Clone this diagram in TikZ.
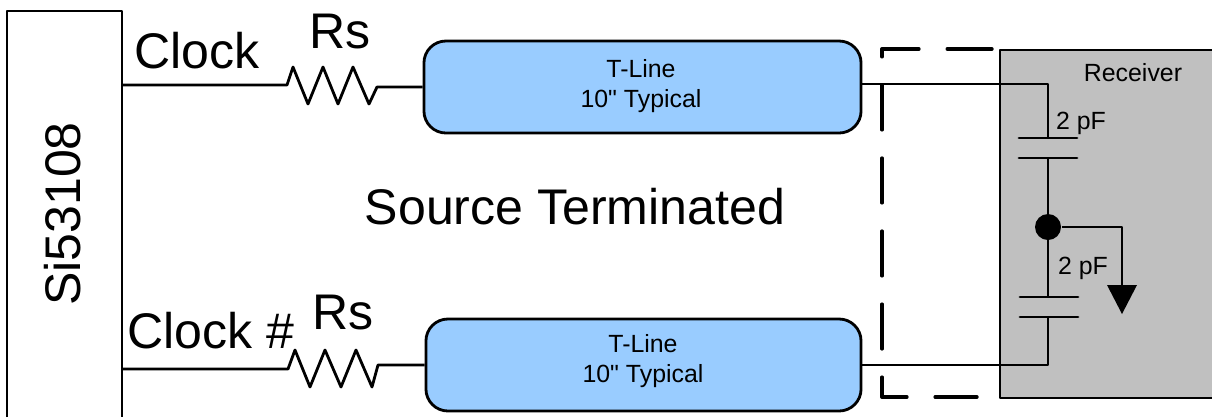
\documentclass[tikz,border=0pt]{standalone}
\usepackage{fontspec}
\setmainfont{Liberation Sans}
\newfontfamily\straightfont{Liberation Sans}
\usepackage{tikz}

\begin{document}
\begin{tikzpicture}[x = 0.025cm, y = -0.025cm, line width = 2pt, line join = round,
        biglabel/.style = {inner sep = 0pt, font = \fontsize{35.6}{42}\selectfont},
        smalllabel/.style = {inner sep = 0pt, align = center, font = \straightfont\fontsize{17.7}{21}\selectfont},
        tline/.style = {draw, fill = lineblue, rounded corners = 0.55cm, minimum height = 2.3cm, inner sep = 0pt},
        plate/.style = {line cap = round}]
        \definecolor{lineblue}{HTML}{99CCFF}
        \definecolor{rxgray}{HTML}{C0C0C0}
        \useasboundingbox (0,0) rectangle (1212,417);

        \draw [fill = rxgray] (1212,50) -- (1000,50) -- (1000,398) -- (1212,398);
        \draw (7,417) -- (7,11) -- (122,11) -- (122,417);

        \node [biglabel, rotate = 90] (chip) at (63,214) {Si53108};
        \node [biglabel] (clock) at (197,51) {Clock};
        \node [biglabel] (clockn) at (211,331) {Clock \#};
        \node [biglabel] (rstop) at (340,32) {Rs};
        \node [biglabel] (rsbot) at (343,313) {Rs};
        \node [biglabel] (title) at (575,207) {Source Terminated};

        \node [tline, minimum width = 10.925cm] (tlinetop) at (642.5,87) {};
        \node [tline, minimum width = 10.875cm] (tlinebot) at (643.5,365) {};
        \node [smalllabel] (texttop) at (641,86) {T-Line\\10" Typical};
        \node [smalllabel] (textbot) at (643,361) {T-Line\\10" Typical};

        \node [smalllabel] (rxlabel) at (1133,73) {Receiver};
        \node [smalllabel] (captop) at (1081,123) {2 pF};
        \node [smalllabel] (capbot) at (1083,268) {2 pF};

        \coordinate (clkout) at (122,85);
        \coordinate (clknout) at (122,369);
        \coordinate (rstopa) at (287,85);
        \coordinate (rstopb) at (377,87);
        \coordinate (rsbota) at (288,369);
        \coordinate (rsbotb) at (378,365);
        \coordinate (tapa) at (1048,84);
        \coordinate (tapb) at (1048,365);
        \coordinate (gnd) at (1122,285);

        \draw (clkout) -- (rstopa) -- (293,67) -- (308,104) -- (323,67) -- (338,104) -- (353,67) -- (369,104) -- (rstopb) -- (tlinetop.west);
        \draw (clknout) -- (rsbota) -- (295,350) -- (310,387) -- (325,350) -- (341,387) -- (356,350) -- (372,387) -- (rsbotb) -- (tlinebot.west);

        \draw (tlinetop.east |- tapa) -- (tapa) -- (1048,138);
        \draw [plate] (1019,138) -- (1077,138);
        \draw [plate] (1019,158) -- (1077,158);
        \draw (1048,158) -- (1048,297);
        \draw [plate] (1020,297) -- (1078,297);
        \draw [plate] (1020,317) -- (1078,317);
        \draw (1048,317) -- (tapb) -- (tlinebot.east |- tapb);

        \node [circle, fill = black, inner sep = 0pt, minimum size = 0.65cm] (dot) at (1048,227) {};
        \draw (dot) -- (1122,227) -- (gnd);
        \fill (1107,285) -- (1137,285) -- (1122,314) -- cycle;

        \draw [line cap = round, line width = 2.4pt, dash pattern = on 1.12cm off 0.705cm] (992,49) -- (882,49) -- (882,397) -- (977,397);
    \end{tikzpicture}
\end{document}
